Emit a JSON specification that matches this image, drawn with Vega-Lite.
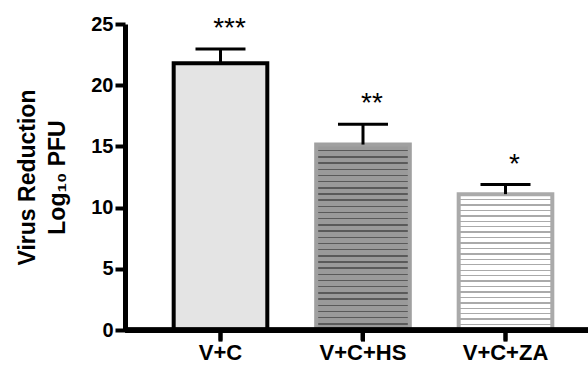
{
  "$schema": "https://vega.github.io/schema/vega-lite/v6.json",
  "width": 463,
  "height": 306,
  "autosize": {"type": "none"},
  "padding": {"left": 125, "top": 24, "right": 0, "bottom": 36},
  "background": "white",
  "config": {
    "view": {"stroke": null},
    "font": "Liberation Sans"
  },
  "data": {
    "values": [
      {"group": "V+C", "value": 21.8, "err_top": 22.95, "sig": "***"},
      {"group": "V+C+HS", "value": 15.15, "err_top": 16.8, "sig": "**"},
      {"group": "V+C+ZA", "value": 11.1, "err_top": 11.88, "sig": "*"}
    ]
  },
  "encoding": {
    "x": {
      "field": "group",
      "type": "nominal",
      "sort": null,
      "scale": {"paddingInner": 0.343, "paddingOuter": 0.296, "align": 0.577},
      "axis": {
        "title": null, "labelAngle": 0, "labelFontSize": 22, "labelFontWeight": "bold",
        "ticks": true, "tickSize": 10, "tickWidth": 4, "tickColor": "black",
        "domainColor": "black", "domainWidth": 5
      }
    },
    "y": {
      "field": "value",
      "type": "quantitative",
      "scale": {"domain": [0, 25], "nice": false},
      "axis": {
        "title": ["Virus Reduction", "Log₁₀ PFU"], "titleFontWeight": "bold", "titleFontSize": 23, "titleLineHeight": 30, "titlePadding": 21,
        "values": [0, 5, 10, 15, 20, 25], "labelFontSize": 20, "labelFontWeight": "bold", "gridOpacity": 0,
        "tickSize": 10, "tickWidth": 4, "tickColor": "black", "domainColor": "black", "domainWidth": 5
      }
    }
  },
  "layer": [
    {
      "mark": {"type": "bar", "strokeWidth": 4},
      "encoding": {
        "stroke": {
          "condition": [
            {"test": "datum.group === 'V+C+HS'", "value": "#a0a0a0"},
            {"test": "datum.group === 'V+C+ZA'", "value": "#aaaaaa"}
          ],
          "value": "black"
        },
        "fill": {
          "condition": [
            {"test": "datum.group === 'V+C+HS'", "value": {
              "gradient": "linear", "x1": 0, "y1": 0, "x2": 0, "y2": 1,
              "stops": [
                {"offset": 0.0293, "color": "#9a9a9a"}, {"offset": 0.0293, "color": "#5a5a5a"}, {"offset": 0.0373, "color": "#5a5a5a"}, {"offset": 0.0373, "color": "#9a9a9a"},
                {"offset": 0.0627, "color": "#9a9a9a"}, {"offset": 0.0627, "color": "#5a5a5a"}, {"offset": 0.0707, "color": "#5a5a5a"}, {"offset": 0.0707, "color": "#9a9a9a"},
                {"offset": 0.096, "color": "#9a9a9a"}, {"offset": 0.096, "color": "#5a5a5a"}, {"offset": 0.104, "color": "#5a5a5a"}, {"offset": 0.104, "color": "#9a9a9a"},
                {"offset": 0.1293, "color": "#9a9a9a"}, {"offset": 0.1293, "color": "#5a5a5a"}, {"offset": 0.1373, "color": "#5a5a5a"}, {"offset": 0.1373, "color": "#9a9a9a"},
                {"offset": 0.1627, "color": "#9a9a9a"}, {"offset": 0.1627, "color": "#5a5a5a"}, {"offset": 0.1707, "color": "#5a5a5a"}, {"offset": 0.1707, "color": "#9a9a9a"},
                {"offset": 0.196, "color": "#9a9a9a"}, {"offset": 0.196, "color": "#5a5a5a"}, {"offset": 0.204, "color": "#5a5a5a"}, {"offset": 0.204, "color": "#9a9a9a"},
                {"offset": 0.2293, "color": "#9a9a9a"}, {"offset": 0.2293, "color": "#5a5a5a"}, {"offset": 0.2373, "color": "#5a5a5a"}, {"offset": 0.2373, "color": "#9a9a9a"},
                {"offset": 0.2627, "color": "#9a9a9a"}, {"offset": 0.2627, "color": "#5a5a5a"}, {"offset": 0.2707, "color": "#5a5a5a"}, {"offset": 0.2707, "color": "#9a9a9a"},
                {"offset": 0.296, "color": "#9a9a9a"}, {"offset": 0.296, "color": "#5a5a5a"}, {"offset": 0.304, "color": "#5a5a5a"}, {"offset": 0.304, "color": "#9a9a9a"},
                {"offset": 0.3293, "color": "#9a9a9a"}, {"offset": 0.3293, "color": "#5a5a5a"}, {"offset": 0.3373, "color": "#5a5a5a"}, {"offset": 0.3373, "color": "#9a9a9a"},
                {"offset": 0.3627, "color": "#9a9a9a"}, {"offset": 0.3627, "color": "#5a5a5a"}, {"offset": 0.3707, "color": "#5a5a5a"}, {"offset": 0.3707, "color": "#9a9a9a"},
                {"offset": 0.396, "color": "#9a9a9a"}, {"offset": 0.396, "color": "#5a5a5a"}, {"offset": 0.404, "color": "#5a5a5a"}, {"offset": 0.404, "color": "#9a9a9a"},
                {"offset": 0.4293, "color": "#9a9a9a"}, {"offset": 0.4293, "color": "#5a5a5a"}, {"offset": 0.4373, "color": "#5a5a5a"}, {"offset": 0.4373, "color": "#9a9a9a"},
                {"offset": 0.4627, "color": "#9a9a9a"}, {"offset": 0.4627, "color": "#5a5a5a"}, {"offset": 0.4707, "color": "#5a5a5a"}, {"offset": 0.4707, "color": "#9a9a9a"},
                {"offset": 0.496, "color": "#9a9a9a"}, {"offset": 0.496, "color": "#5a5a5a"}, {"offset": 0.504, "color": "#5a5a5a"}, {"offset": 0.504, "color": "#9a9a9a"},
                {"offset": 0.5293, "color": "#9a9a9a"}, {"offset": 0.5293, "color": "#5a5a5a"}, {"offset": 0.5373, "color": "#5a5a5a"}, {"offset": 0.5373, "color": "#9a9a9a"},
                {"offset": 0.5627, "color": "#9a9a9a"}, {"offset": 0.5627, "color": "#5a5a5a"}, {"offset": 0.5707, "color": "#5a5a5a"}, {"offset": 0.5707, "color": "#9a9a9a"},
                {"offset": 0.596, "color": "#9a9a9a"}, {"offset": 0.596, "color": "#5a5a5a"}, {"offset": 0.604, "color": "#5a5a5a"}, {"offset": 0.604, "color": "#9a9a9a"},
                {"offset": 0.6293, "color": "#9a9a9a"}, {"offset": 0.6293, "color": "#5a5a5a"}, {"offset": 0.6373, "color": "#5a5a5a"}, {"offset": 0.6373, "color": "#9a9a9a"},
                {"offset": 0.6627, "color": "#9a9a9a"}, {"offset": 0.6627, "color": "#5a5a5a"}, {"offset": 0.6707, "color": "#5a5a5a"}, {"offset": 0.6707, "color": "#9a9a9a"},
                {"offset": 0.696, "color": "#9a9a9a"}, {"offset": 0.696, "color": "#5a5a5a"}, {"offset": 0.704, "color": "#5a5a5a"}, {"offset": 0.704, "color": "#9a9a9a"},
                {"offset": 0.7293, "color": "#9a9a9a"}, {"offset": 0.7293, "color": "#5a5a5a"}, {"offset": 0.7373, "color": "#5a5a5a"}, {"offset": 0.7373, "color": "#9a9a9a"},
                {"offset": 0.7627, "color": "#9a9a9a"}, {"offset": 0.7627, "color": "#5a5a5a"}, {"offset": 0.7707, "color": "#5a5a5a"}, {"offset": 0.7707, "color": "#9a9a9a"},
                {"offset": 0.796, "color": "#9a9a9a"}, {"offset": 0.796, "color": "#5a5a5a"}, {"offset": 0.804, "color": "#5a5a5a"}, {"offset": 0.804, "color": "#9a9a9a"},
                {"offset": 0.8293, "color": "#9a9a9a"}, {"offset": 0.8293, "color": "#5a5a5a"}, {"offset": 0.8373, "color": "#5a5a5a"}, {"offset": 0.8373, "color": "#9a9a9a"},
                {"offset": 0.8627, "color": "#9a9a9a"}, {"offset": 0.8627, "color": "#5a5a5a"}, {"offset": 0.8707, "color": "#5a5a5a"}, {"offset": 0.8707, "color": "#9a9a9a"},
                {"offset": 0.896, "color": "#9a9a9a"}, {"offset": 0.896, "color": "#5a5a5a"}, {"offset": 0.904, "color": "#5a5a5a"}, {"offset": 0.904, "color": "#9a9a9a"},
                {"offset": 0.9293, "color": "#9a9a9a"}, {"offset": 0.9293, "color": "#5a5a5a"}, {"offset": 0.9373, "color": "#5a5a5a"}, {"offset": 0.9373, "color": "#9a9a9a"},
                {"offset": 0.9627, "color": "#9a9a9a"}, {"offset": 0.9627, "color": "#5a5a5a"}, {"offset": 0.9707, "color": "#5a5a5a"}, {"offset": 0.9707, "color": "#9a9a9a"}
              ]
            }},
            {"test": "datum.group === 'V+C+ZA'", "value": {
              "gradient": "linear", "x1": 0, "y1": 0, "x2": 0, "y2": 1,
              "stops": [
                {"offset": 0.035, "color": "white"}, {"offset": 0.035, "color": "#aaaaaa"}, {"offset": 0.045, "color": "#aaaaaa"}, {"offset": 0.045, "color": "white"},
                {"offset": 0.075, "color": "white"}, {"offset": 0.075, "color": "#aaaaaa"}, {"offset": 0.085, "color": "#aaaaaa"}, {"offset": 0.085, "color": "white"},
                {"offset": 0.115, "color": "white"}, {"offset": 0.115, "color": "#aaaaaa"}, {"offset": 0.125, "color": "#aaaaaa"}, {"offset": 0.125, "color": "white"},
                {"offset": 0.155, "color": "white"}, {"offset": 0.155, "color": "#aaaaaa"}, {"offset": 0.165, "color": "#aaaaaa"}, {"offset": 0.165, "color": "white"},
                {"offset": 0.195, "color": "white"}, {"offset": 0.195, "color": "#aaaaaa"}, {"offset": 0.205, "color": "#aaaaaa"}, {"offset": 0.205, "color": "white"},
                {"offset": 0.235, "color": "white"}, {"offset": 0.235, "color": "#aaaaaa"}, {"offset": 0.245, "color": "#aaaaaa"}, {"offset": 0.245, "color": "white"},
                {"offset": 0.275, "color": "white"}, {"offset": 0.275, "color": "#aaaaaa"}, {"offset": 0.285, "color": "#aaaaaa"}, {"offset": 0.285, "color": "white"},
                {"offset": 0.315, "color": "white"}, {"offset": 0.315, "color": "#aaaaaa"}, {"offset": 0.325, "color": "#aaaaaa"}, {"offset": 0.325, "color": "white"},
                {"offset": 0.355, "color": "white"}, {"offset": 0.355, "color": "#aaaaaa"}, {"offset": 0.365, "color": "#aaaaaa"}, {"offset": 0.365, "color": "white"},
                {"offset": 0.395, "color": "white"}, {"offset": 0.395, "color": "#aaaaaa"}, {"offset": 0.405, "color": "#aaaaaa"}, {"offset": 0.405, "color": "white"},
                {"offset": 0.435, "color": "white"}, {"offset": 0.435, "color": "#aaaaaa"}, {"offset": 0.445, "color": "#aaaaaa"}, {"offset": 0.445, "color": "white"},
                {"offset": 0.475, "color": "white"}, {"offset": 0.475, "color": "#aaaaaa"}, {"offset": 0.485, "color": "#aaaaaa"}, {"offset": 0.485, "color": "white"},
                {"offset": 0.515, "color": "white"}, {"offset": 0.515, "color": "#aaaaaa"}, {"offset": 0.525, "color": "#aaaaaa"}, {"offset": 0.525, "color": "white"},
                {"offset": 0.555, "color": "white"}, {"offset": 0.555, "color": "#aaaaaa"}, {"offset": 0.565, "color": "#aaaaaa"}, {"offset": 0.565, "color": "white"},
                {"offset": 0.595, "color": "white"}, {"offset": 0.595, "color": "#aaaaaa"}, {"offset": 0.605, "color": "#aaaaaa"}, {"offset": 0.605, "color": "white"},
                {"offset": 0.635, "color": "white"}, {"offset": 0.635, "color": "#aaaaaa"}, {"offset": 0.645, "color": "#aaaaaa"}, {"offset": 0.645, "color": "white"},
                {"offset": 0.675, "color": "white"}, {"offset": 0.675, "color": "#aaaaaa"}, {"offset": 0.685, "color": "#aaaaaa"}, {"offset": 0.685, "color": "white"},
                {"offset": 0.715, "color": "white"}, {"offset": 0.715, "color": "#aaaaaa"}, {"offset": 0.725, "color": "#aaaaaa"}, {"offset": 0.725, "color": "white"},
                {"offset": 0.755, "color": "white"}, {"offset": 0.755, "color": "#aaaaaa"}, {"offset": 0.765, "color": "#aaaaaa"}, {"offset": 0.765, "color": "white"},
                {"offset": 0.795, "color": "white"}, {"offset": 0.795, "color": "#aaaaaa"}, {"offset": 0.805, "color": "#aaaaaa"}, {"offset": 0.805, "color": "white"},
                {"offset": 0.835, "color": "white"}, {"offset": 0.835, "color": "#aaaaaa"}, {"offset": 0.845, "color": "#aaaaaa"}, {"offset": 0.845, "color": "white"},
                {"offset": 0.875, "color": "white"}, {"offset": 0.875, "color": "#aaaaaa"}, {"offset": 0.885, "color": "#aaaaaa"}, {"offset": 0.885, "color": "white"},
                {"offset": 0.915, "color": "white"}, {"offset": 0.915, "color": "#aaaaaa"}, {"offset": 0.925, "color": "#aaaaaa"}, {"offset": 0.925, "color": "white"},
                {"offset": 0.955, "color": "white"}, {"offset": 0.955, "color": "#aaaaaa"}, {"offset": 0.965, "color": "#aaaaaa"}, {"offset": 0.965, "color": "white"}
              ]
            }}
          ],
          "value": "#e4e4e4"
        }
      }
    },
    {
      "mark": {"type": "rule", "color": "black", "strokeWidth": 3},
      "encoding": {"y2": {"field": "err_top"}}
    },
    {
      "mark": {"type": "tick", "orient": "horizontal", "color": "black", "size": 50, "thickness": 3, "opacity": 1},
      "encoding": {"y": {"field": "err_top", "type": "quantitative"}}
    },
    {
      "mark": {"type": "text", "font": "Liberation Sans", "fontSize": 28, "color": "black", "baseline": "alphabetic", "dx": 9, "dy": -12},
      "encoding": {"y": {"field": "err_top", "type": "quantitative"}, "text": {"field": "sig"}}
    },
    {
      "mark": {"type": "rule", "color": "black", "strokeWidth": 4},
      "encoding": {"y": {"datum": 0, "type": "quantitative"}, "y2": {"datum": -0.95}}
    },
    {
      "mark": {"type": "rule", "color": "black", "strokeWidth": 5},
      "encoding": {"y": {"datum": 0, "type": "quantitative"}, "x": {"value": 0}, "x2": {"value": "width"}}
    }
  ]
}
